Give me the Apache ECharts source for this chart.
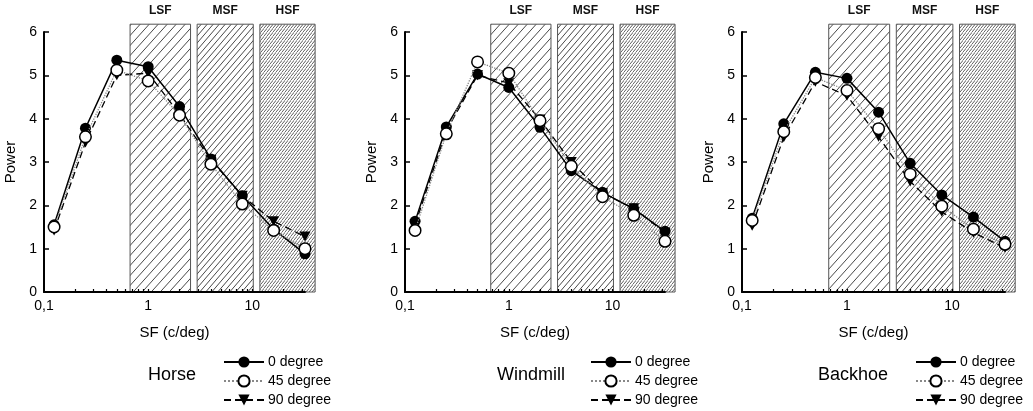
<!DOCTYPE html>
<html>
<head>
<meta charset="utf-8">
<title>Power by SF</title>
<style>
  html, body { margin: 0; padding: 0; background: #fff; }
  #chart { width: 1033px; height: 411px; }
</style>
</head>
<body>
<div id="chart"></div>
<script src="https://cdn.jsdelivr.net/npm/echarts@6/dist/echarts.min.js"></script>
<script>
// ---- data ----
var sf = [0.125, 0.25, 0.5, 1, 2, 4, 8, 16, 32];
var degreeNames = ['0 degree', '45 degree', '90 degree'];
var panelNames = ['Horse', 'Windmill', 'Backhoe'];

var horse0 = [1.55, 3.78, 5.35, 5.2, 4.28, 3.07, 2.22, 1.45, 0.88];
var horse45 = [1.5, 3.58, 5.12, 4.87, 4.08, 2.95, 2.03, 1.42, 1.0];
var horse90 = [1.42, 3.45, 5.0, 5.05, 4.1, 3.05, 2.22, 1.63, 1.28];

var windmill0 = [1.63, 3.81, 5.03, 4.72, 3.8, 2.8, 2.3, 1.92, 1.4];
var windmill45 = [1.42, 3.65, 5.31, 5.05, 3.95, 2.9, 2.2, 1.77, 1.17];
var windmill90 = [1.55, 3.72, 5.0, 4.82, 3.98, 3.0, 2.28, 1.93, 1.37];

var backhoe0 = [1.7, 3.88, 5.07, 4.93, 4.15, 2.97, 2.24, 1.73, 1.17];
var backhoe45 = [1.65, 3.7, 4.95, 4.65, 3.77, 2.72, 1.98, 1.45, 1.1];
var backhoe90 = [1.53, 3.57, 4.85, 4.53, 3.58, 2.55, 1.85, 1.37, 1.02];

// SF bands (hatched boxes)
var bandNames = ['LSF', 'MSF', 'HSF'];
var bandFrom = [0.67, 2.95, 11.8];
var bandTo = [2.55, 10.2, 40];
var bandTop = 6.18;

// axis ticks
var xLabelValues = [0.1, 1, 10];
var xTickValues = [0.2, 0.3, 0.4, 0.5, 0.6, 0.7, 0.8, 0.9, 1, 2, 3, 4, 5, 6, 7, 8, 9, 10, 20, 30];
var yMin = 0, yMax = 6, yStep = 1;

var panelData = [
  [horse0, horse45, horse90],
  [windmill0, windmill45, windmill90],
  [backhoe0, backhoe45, backhoe90]
];

// ---- layout ----
var font = 'Arial, "Liberation Sans", sans-serif';
var grids = [
  { left: 44, top: 32, width: 261, height: 260 },
  { left: 405, top: 32, width: 260, height: 260 },
  { left: 742, top: 32, width: 263, height: 260 }
];
var legendLeft = [223, 590, 915];
var titleLeft = [148, 497, 818];

// 斜线填充
function hatch(w, h, lw) {
  var c = document.createElement('canvas');
  c.width = w; c.height = h;
  var g = c.getContext('2d');
  g.strokeStyle = '#333';
  g.lineWidth = lw;
  g.beginPath();
  g.moveTo(0, h); g.lineTo(w, 0);
  g.moveTo(-w, h); g.lineTo(0, 0);
  g.moveTo(w, h); g.lineTo(2 * w, 0);
  g.stroke();
  return c;
}
var patterns = [hatch(9, 10, 0.9), hatch(6, 7, 0.9), hatch(3.4, 4, 0.8)];

function pair(ys) {
  return sf.map(function (x, i) { return [x, ys[i]]; });
}

var xAxes = [], yAxes = [], series = [], legends = [], titles = [];

grids.forEach(function (g, p) {
  xAxes.push({
    gridIndex: p,
    type: 'log',
    logBase: 10,
    min: 0.1,
    max: 32,
    name: 'SF (c/deg)',
    nameLocation: 'middle',
    nameGap: 33,
    nameTextStyle: { color: '#000', fontSize: 15, fontFamily: font },
    z: 10,
    axisLine: { lineStyle: { color: '#000', width: 2 } },
    axisTick: { inside: true, length: 3, customValues: xTickValues, lineStyle: { color: '#000', width: 1.2 } },
    axisLabel: {
      customValues: xLabelValues,
      margin: 7,
      color: '#000',
      fontSize: 14,
      fontFamily: font,
      formatter: function (v) { return String(+(+v).toPrecision(3)).replace('.', ','); }
    },
    splitLine: { show: false },
    minorTick: { show: false }
  });
  yAxes.push({
    gridIndex: p,
    type: 'value',
    min: yMin,
    max: yMax,
    interval: yStep,
    name: 'Power',
    nameLocation: 'middle',
    nameGap: 26,
    nameTextStyle: { color: '#000', fontSize: 15, fontFamily: font },
    z: 10,
    axisLine: { show: true, lineStyle: { color: '#000', width: 2 } },
    axisTick: { show: true, inside: true, length: 5, lineStyle: { color: '#000', width: 1.5 } },
    axisLabel: { margin: 7, color: '#000', fontSize: 14, fontFamily: font },
    splitLine: { show: false }
  });

  // hatched band boxes + labels
  series.push({
    type: 'custom',
    xAxisIndex: p,
    yAxisIndex: p,
    silent: true,
    clip: false,
    z: 1,
    encode: { x: [0, 1], y: [2, 3] },
    data: bandFrom.map(function (f, k) { return [f, bandTo[k], 0, bandTop]; }),
    renderItem: function (params, api) {
      var a = api.coord([api.value(0), api.value(2)]);
      var b = api.coord([api.value(1), api.value(3)]);
      return {
        type: 'group',
        children: [{
          type: 'rect',
          shape: { x: a[0], y: b[1], width: b[0] - a[0], height: a[1] - b[1] },
          style: { fill: { image: patterns[params.dataIndex], repeat: 'repeat' }, stroke: '#555', lineWidth: 1 }
        }, {
          type: 'text',
          style: {
            text: bandNames[params.dataIndex],
            x: (a[0] + b[0]) / 2,
            y: b[1] - 14,
            align: 'center',
            verticalAlign: 'middle',
            fill: '#111',
            font: 'bold 12px ' + font
          }
        }]
      };
    }
  });

  var d = panelData[p];
  series.push({
    name: degreeNames[0], type: 'line', xAxisIndex: p, yAxisIndex: p, z: 3,
    data: pair(d[0]),
    symbol: 'circle', symbolSize: 11,
    lineStyle: { color: '#000', width: 1.5 },
    itemStyle: { color: '#000' }
  });
  series.push({
    name: degreeNames[2], type: 'line', xAxisIndex: p, yAxisIndex: p, z: 4,
    data: pair(d[2]),
    symbol: 'path://M0,0L10,0L5,9Z', symbolSize: [11, 10],
    lineStyle: { color: '#000', width: 1.3, type: [7, 4] },
    itemStyle: { color: '#000' }
  });
  series.push({
    name: degreeNames[1], type: 'line', xAxisIndex: p, yAxisIndex: p, z: 5,
    data: pair(d[1]),
    symbol: 'circle', symbolSize: 11.5,
    lineStyle: { color: '#888', width: 1.3, type: 'dotted' },
    itemStyle: { color: '#fff', borderColor: '#000', borderWidth: 1.5 }
  });

  legends.push({
    orient: 'vertical',
    left: legendLeft[p],
    top: 355,
    padding: 0,
    itemWidth: 40,
    itemHeight: 14,
    itemGap: 5,
    selectedMode: false,
    data: degreeNames,
    textStyle: { color: '#000', fontSize: 14, fontFamily: font, padding: [0, 0, 0, -1] }
  });
  titles.push({
    text: panelNames[p],
    left: titleLeft[p],
    top: 366,
    padding: 0,
    textStyle: { color: '#000', fontSize: 18, fontWeight: 'normal', fontFamily: font }
  });
});

var myChart = echarts.init(document.getElementById('chart'));
myChart.setOption({
  animation: false,
  backgroundColor: '#fff',
  title: titles,
  legend: legends,
  grid: grids,
  xAxis: xAxes,
  yAxis: yAxes,
  series: series
});
</script>
</body>
</html>
